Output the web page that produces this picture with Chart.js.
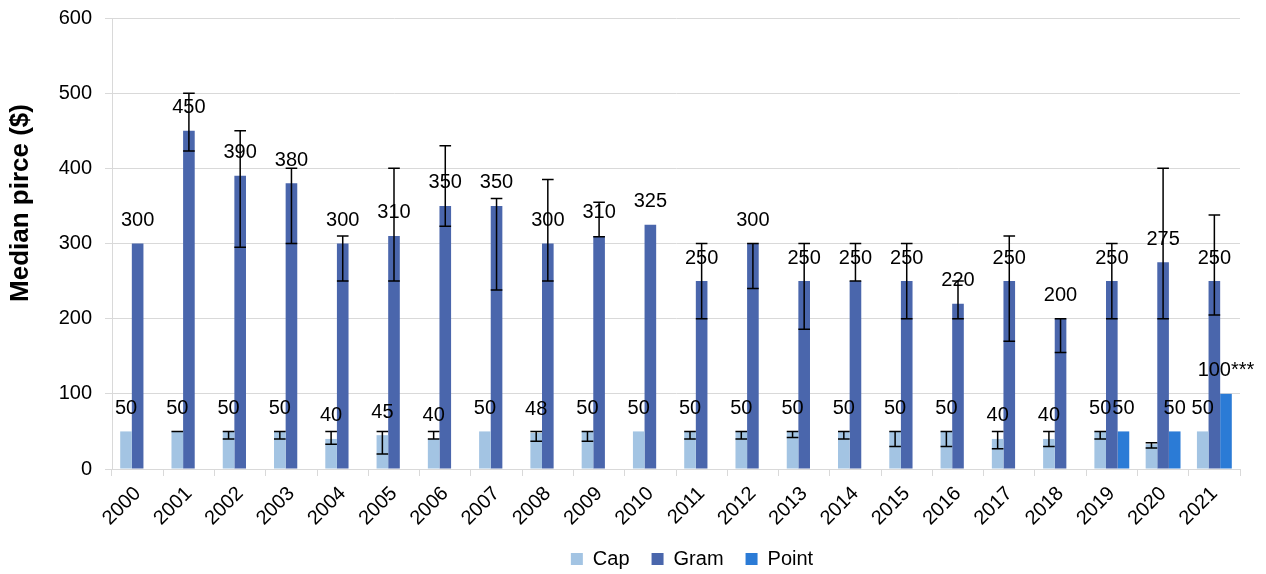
<!DOCTYPE html>
<html>
<head>
<meta charset="utf-8">
<script src="https://cdn.jsdelivr.net/npm/chart.js@4"></script>
<style>
  html, body { margin: 0; padding: 0; background: #fff; }
  #wrap { width: 1266px; height: 574px; position: relative; }
</style>
</head>
<body>
<div id="wrap"><canvas id="chart"></canvas></div>
<script>
const years = ['2000', '2001', '2002', '2003', '2004', '2005', '2006', '2007', '2008', '2009', '2010',
  '2011', '2012', '2013', '2014', '2015', '2016', '2017', '2018', '2019', '2020', '2021'];

const capValues = [50, 50, 50, 50, 40, 45, 40, 50, 48, 50, 50, 50, 50, 50, 50, 50, 50, 40, 40, 50, 33, 50];
const gramValues = [300, 450, 390, 380, 300, 310, 350, 350, 300, 310, 325, 250, 300, 250, 250, 250, 220, 250, 200, 250, 275, 250];
const pointValues = [null, null, null, null, null, null, null, null, null, null, null,
  null, null, null, null, null, null, null, null, 50, 50, 100];

// text shown above each bar (Cap 2020 has no label in the original)
const capLabels = ['50', '50', '50', '50', '40', '45', '40', '50', '48', '50', '50',
  '50', '50', '50', '50', '50', '50', '40', '40', '50', null, '50'];
const gramLabels = gramValues.map(v => String(v));
const pointLabels = [null, null, null, null, null, null, null, null, null, null, null,
  null, null, null, null, null, null, null, null, '50', '50', '100***'];

// error bar ranges (low, high)
const capErrLow = [null, 50, 40, 40, 33, 20, 40, null, 37, 37, null, 40, 40, 42, 40, 30, 30, 27, 30, 40, 28, null];
const capErrHigh = [null, 50, 50, 50, 50, 50, 50, null, 50, 50, null, 50, 50, 50, 50, 50, 50, 50, 50, 50, 35, null];
const gramErrLow = [null, 423, 295, 300, 250, 250, 323, 238, 250, 309, null, 200, 240, 186, 250, 200, 200, 170, 155, 200, 200, 205];
const gramErrHigh = [null, 500, 450, 400, 310, 400, 430, 360, 385, 355, null, 300, 300, 300, 300, 300, 250, 310, 200, 300, 400, 338];

const yTicks = [0, 100, 200, 300, 400, 500, 600];

const FONT = '"Liberation Sans", Arial, sans-serif';
Chart.defaults.font.family = FONT;
Chart.defaults.color = '#000';

const errorBars = {
  id: 'errorBars',
  afterDatasetsDraw(chart) {
    const ctx = chart.ctx;
    const y = chart.scales.y;
    const sets = [[0, capErrLow, capErrHigh], [1, gramErrLow, gramErrHigh]];
    ctx.save();
    ctx.strokeStyle = '#000';
    ctx.lineWidth = 1.5;
    sets.forEach(([idx, low, high]) => {
      const meta = chart.getDatasetMeta(idx);
      meta.data.forEach((bar, i) => {
        if (low[i] == null) return;
        const x = bar.x;
        const half = bar.width / 2;
        const yl = y.getPixelForValue(low[i]);
        const yh = y.getPixelForValue(high[i]);
        ctx.beginPath();
        ctx.moveTo(x, yl); ctx.lineTo(x, yh);
        ctx.moveTo(x - half, yl); ctx.lineTo(x + half, yl);
        ctx.moveTo(x - half, yh); ctx.lineTo(x + half, yh);
        ctx.stroke();
      });
    });
    ctx.restore();
  }
};

const barLabels = {
  id: 'barLabels',
  afterDraw(chart) {
    const ctx = chart.ctx;
    const all = [capLabels, gramLabels, pointLabels];
    ctx.save();
    ctx.font = '20px ' + FONT;
    ctx.fillStyle = '#000';
    ctx.textAlign = 'center';
    ctx.textBaseline = 'middle';
    all.forEach((labels, idx) => {
      const meta = chart.getDatasetMeta(idx);
      meta.data.forEach((bar, i) => {
        if (labels[i] == null) return;
        ctx.fillText(labels[i], bar.x, bar.y - 23);
      });
    });
    // y axis title
    ctx.translate(21, 203);
    ctx.rotate(-Math.PI / 2);
    ctx.font = 'bold 26px ' + FONT;
    ctx.fillText('Median pirce ($)', 0, 0);
    ctx.restore();
  }
};

// nudge the legend sideways to where the original has it
const shiftLegend = {
  id: 'shiftLegend',
  afterLayout(chart) {
    chart.legend.left += 72;
    chart.legend.right += 72;
  }
};

new Chart(document.getElementById('chart'), {
  type: 'bar',
  data: {
    labels: years,
    datasets: [
      { label: 'Cap', data: capValues, backgroundColor: '#A3C4E3' },
      { label: 'Gram', data: gramValues, backgroundColor: '#4A66AC' },
      { label: 'Point', data: pointValues, backgroundColor: '#2B7BD6' }
    ]
  },
  options: {
    responsive: true,
    maintainAspectRatio: false,
    animation: false,
    categoryPercentage: 0.68,
    barPercentage: 1.0,
    layout: { padding: { left: 0, right: 26, top: 18, bottom: -5 } },
    plugins: {
      legend: {
        position: 'bottom',
        labels: {
          font: { size: 20 },
          boxWidth: 12,
          boxHeight: 12,
          padding: 22
        }
      },
      tooltip: { enabled: false }
    },
    scales: {
      x: {
        grid: { drawOnChartArea: false, drawTicks: true, tickLength: 7, color: '#d9d9d9', offset: true },
        border: { color: '#d9d9d9' },
        ticks: { font: { size: 20 }, minRotation: 45, maxRotation: 45, autoSkip: false, padding: 6 },
        afterFit(scale) { scale.height = 58; }
      },
      y: {
        min: 0,
        max: 600,
        afterBuildTicks(scale) { scale.ticks = yTicks.map(v => ({ value: v })); },
        grid: { color: '#d9d9d9', tickLength: 7 },
        border: { color: '#d9d9d9' },
        ticks: { font: { size: 20 }, padding: 13 },
        afterFit(scale) {
          scale.width = 112;
          scale.paddingTop = 12;
          scale.paddingBottom = 12;
        }
      }
    }
  },
  plugins: [errorBars, barLabels, shiftLegend]
});
</script>
</body>
</html>
